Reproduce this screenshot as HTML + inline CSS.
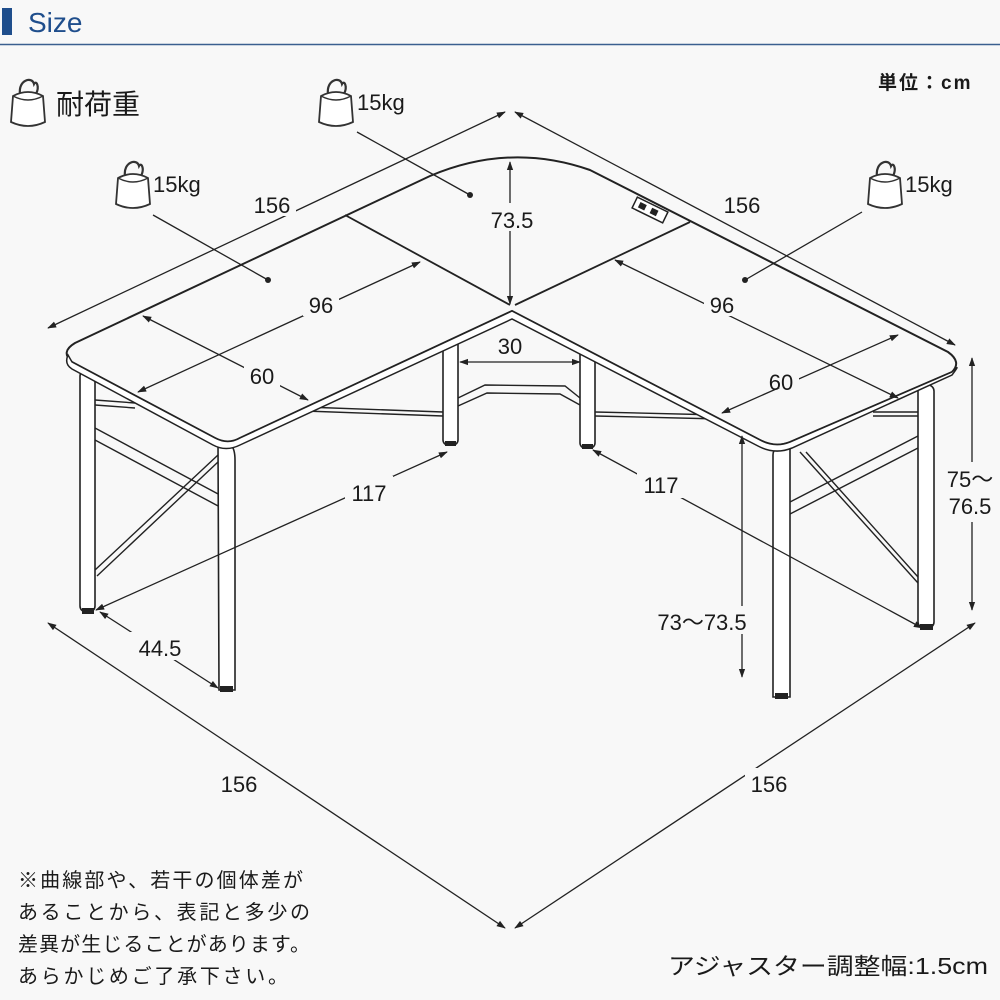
<!DOCTYPE html>
<html><head><meta charset="utf-8"><style>
html,body{margin:0;padding:0;background:#f8f8f8;}
svg{display:block;}
text{font-family:"Liberation Sans","Noto Sans CJK JP",sans-serif;fill:#1a1a1a;}
</style></head><body>
<svg width="1000" height="1000" viewBox="0 0 1000 1000" xmlns="http://www.w3.org/2000/svg">
<defs>
<marker id="a" viewBox="0 0 10 10" refX="9" refY="5" markerWidth="7" markerHeight="7" orient="auto-start-reverse"><path d="M0,1.5 L10,5 L0,8.5 z" fill="#222"/></marker>
<g id="w"><path d="M10,18 C8,4 22,0 24,8 C26,4 30,10 26,18" fill="none" stroke="#333" stroke-width="2.2"/><path d="M3,20 Q18,12 33,20 L35,46 Q18,54 1,46 z" fill="#fff" stroke="#333" stroke-width="1.8"/><path d="M3,20 Q18,28 33,20" fill="none" stroke="#333" stroke-width="1.4"/></g>
</defs>
<rect width="1000" height="1000" fill="#f8f8f8"/>
<!-- header -->
<rect x="2" y="8" width="10" height="27" fill="#1f4e8c"/>
<text x="28" y="32" font-size="28" style="fill:#1f4e8c">Size</text>
<line x1="0" y1="44.5" x2="1000" y2="44.5" stroke="#3a5f8f" stroke-width="1.5"/>
<text x="878" y="89" font-size="19" font-weight="bold" letter-spacing="2">単位：cm</text>
<!-- weights -->
<use href="#w" x="10" y="76"/>
<text x="56" y="114" font-size="28">耐荷重</text>
<use href="#w" x="318" y="76"/>
<text x="357" y="110" font-size="22">15kg</text>
<use href="#w" x="115" y="158"/>
<text x="153" y="192" font-size="22">15kg</text>
<use href="#w" x="867" y="158"/>
<text x="905" y="192" font-size="22">15kg</text>
<!-- legs -->
<g fill="#fff" stroke="#222" stroke-width="1.6">
<rect x="80" y="370" width="15" height="242" rx="6"/>
<rect x="443" y="340" width="15" height="105" rx="5"/>
<rect x="580" y="340" width="15" height="108" rx="5"/>
<rect x="918" y="385" width="16" height="243" rx="6"/>
</g>
<g stroke="#222" stroke-width="1.4" fill="none">
<path d="M95,400 L135,403 M95,405 L135,408"/>
<path d="M305,407 L443,412 M305,411 L443,416"/>
<path d="M595,412 L720,415 M595,416 L720,419"/>
<path d="M873,412 L918,412 M873,416 L918,416"/>
<path d="M458,398 L485,385 L565,386 L580,398 M458,406 L487,393 L560,394 L580,405"/>
<path d="M95,428 L220,495 M95,440 L220,507"/>
<path d="M95,570 L218,455 M97,576 L218,462"/>
<path d="M790,502 L918,436 M790,514 L918,448"/>
<path d="M800,452 L918,583 M806,452 L918,577"/>
</g>
<g fill="#fff" stroke="#222" stroke-width="1.6">
<path d="M218,442 Q235,438 235,460 L235,690 L219,690 Z"/>
<path d="M773,455 Q773,445 790,445 L790,697 L773,697 Z"/>
</g>
<rect x="82" y="608" width="12" height="6" fill="#222"/><rect x="220" y="686" width="13" height="6" fill="#222"/>
<rect x="445" y="441" width="11" height="5" fill="#222"/><rect x="582" y="444" width="11" height="5" fill="#222"/>
<rect x="775" y="693" width="13" height="6" fill="#222"/><rect x="920" y="624" width="13" height="6" fill="#222"/>
<!-- tabletop -->
<path d="M75,343 L430,176 Q510,142 590,170 L948,352 Q962,362 952,372 L790,442 Q775,448 760,440 L512,311 L240,438 Q228,445 215,438 L72,362 Q60,352 75,343 Z" fill="#f8f8f8" stroke="#222" stroke-width="2"/>
<path d="M68,355 L72,362 L215,438 Q228,445 240,438 L512,311 L760,440 Q775,448 790,442 L952,372 Q962,362 952,375 L792,448 Q775,455 758,446 L512,319 L240,445 Q226,452 213,445 L72,369 Q64,364 68,355 Z" fill="#fff" stroke="#222" stroke-width="1.5"/>
<g stroke="#222" stroke-width="1.8"><line x1="345" y1="215" x2="510" y2="305"/><line x1="690" y1="222" x2="515" y2="305"/></g>
<!-- leaders -->
<g stroke="#222" stroke-width="1.3" fill="none">
<line x1="357" y1="132" x2="470" y2="195"/><line x1="153" y1="215" x2="268" y2="280"/><line x1="862" y1="212" x2="745" y2="280"/>
</g>
<circle cx="470" cy="195" r="3" fill="#222"/><circle cx="268" cy="280" r="3" fill="#222"/><circle cx="745" cy="280" r="3" fill="#222"/>
<!-- outlet -->
<g transform="translate(650,210) rotate(26)"><rect x="-17" y="-6" width="34" height="12" fill="#fff" stroke="#222" stroke-width="1.5"/><rect x="-12" y="-3" width="7" height="6" fill="#222"/><rect x="1" y="-3" width="7" height="6" fill="#222"/></g>
<!-- dimension lines -->
<g stroke="#222" stroke-width="1.3" fill="none" marker-start="url(#a)" marker-end="url(#a)">
<path d="M48,328 L505,112"/>
<path d="M515,112 L955,345"/>
<path d="M510,162 L510,304"/>
<path d="M138,392 L420,262"/>
<path d="M143,316 L308,400"/>
<path d="M615,260 L898,398"/>
<path d="M722,413 L898,335"/>
<path d="M460,362 L580,362"/>
<path d="M96,610 L447,452"/>
<path d="M593,450 L922,628"/>
<path d="M100,612 L218,688"/>
<path d="M972,358 L972,610"/>
<path d="M742,436 L742,677"/>
<path d="M48,623 L505,928"/>
<path d="M515,928 L975,623"/>
</g>
<!-- label backgrounds -->
<g fill="#f8f8f8">
<rect x="248" y="188" width="48" height="28"/><rect x="718" y="188" width="48" height="28"/>
<rect x="485" y="203" width="52" height="28"/><rect x="303" y="288" width="36" height="28"/>
<rect x="244" y="360" width="36" height="28"/><rect x="704" y="288" width="36" height="28"/>
<rect x="763" y="360" width="36" height="28"/><rect x="490" y="333" width="38" height="26"/>
<rect x="345" y="476" width="48" height="28"/><rect x="637" y="470" width="48" height="28"/>
<rect x="130" y="632" width="60" height="28"/><rect x="940" y="462" width="60" height="60"/>
<rect x="645" y="606" width="115" height="28"/><rect x="215" y="768" width="48" height="28"/>
<rect x="745" y="768" width="48" height="28"/>
</g>
<g font-size="22" text-anchor="middle">
<text x="272" y="213">156</text><text x="742" y="213">156</text>
<text x="512" y="228">73.5</text><text x="321" y="313">96</text>
<text x="262" y="384">60</text><text x="722" y="313">96</text>
<text x="781" y="390">60</text><text x="510" y="354">30</text>
<text x="369" y="501">117</text><text x="661" y="493">117</text>
<text x="160" y="656">44.5</text><text x="970" y="487">75～</text>
<text x="970" y="514">76.5</text><text x="702" y="630">73～73.5</text>
<text x="239" y="792">156</text><text x="769" y="792">156</text>
</g>
<!-- notes -->
<g font-size="20">
<text x="18" y="887" textLength="285" lengthAdjust="spacing">※曲線部や、若干の個体差が</text>
<text x="18" y="919" textLength="292" lengthAdjust="spacing">あることから、表記と多少の</text>
<text x="18" y="951" textLength="292" lengthAdjust="spacing">差異が生じることがあります。</text>
<text x="18" y="983" textLength="270" lengthAdjust="spacing">あらかじめご了承下さい。</text>
</g>
<text x="668" y="974" font-size="23" textLength="320" lengthAdjust="spacingAndGlyphs">アジャスター調整幅:1.5cm</text>
</svg>
</body></html>
